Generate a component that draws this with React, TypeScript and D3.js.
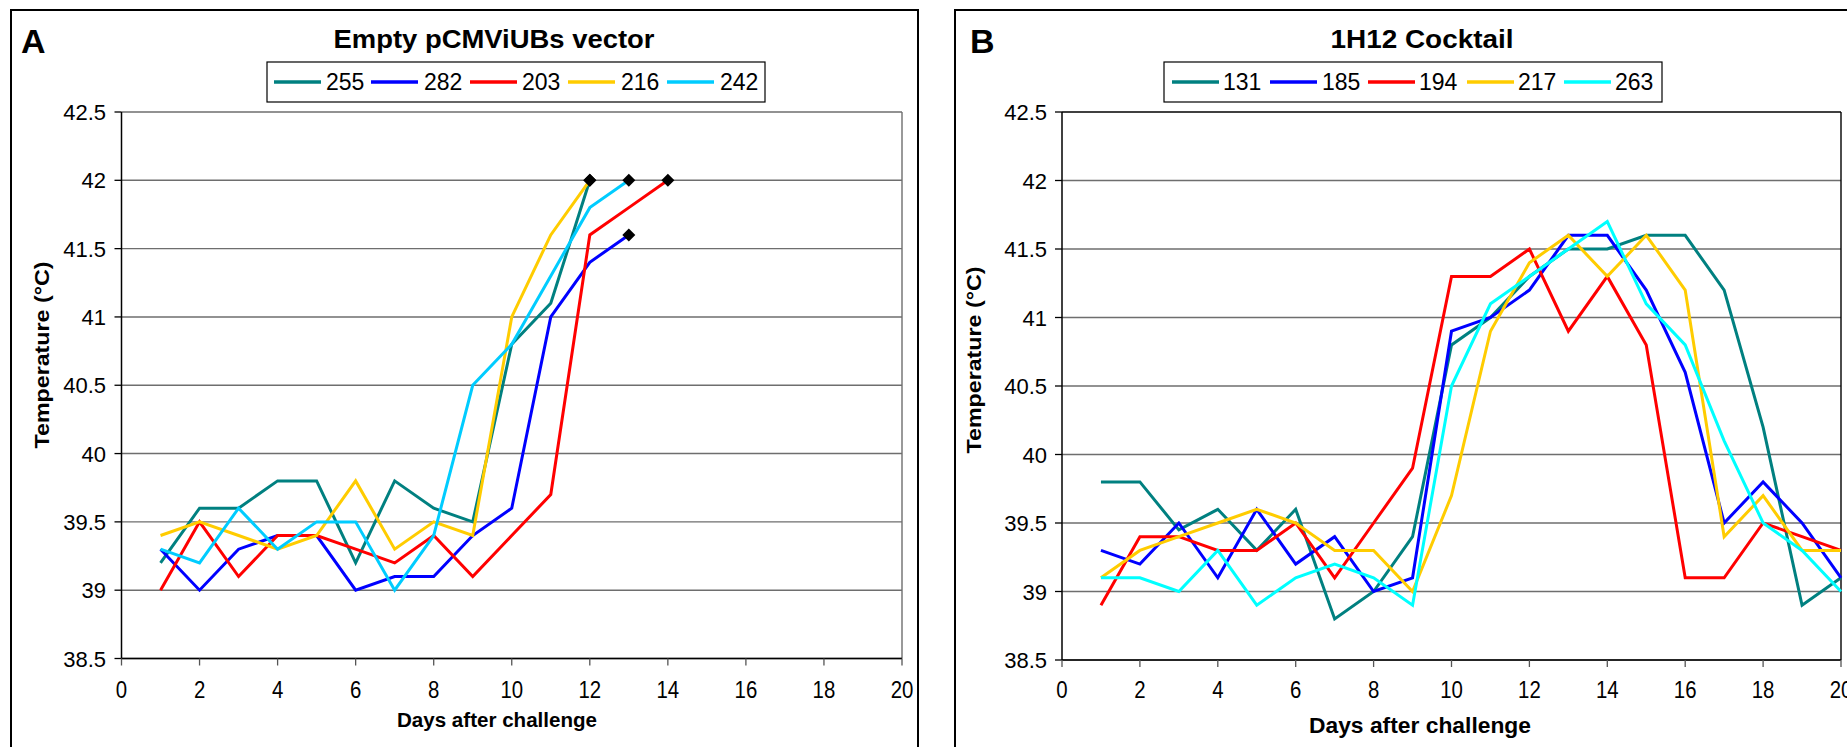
import React from "react";
import * as d3 from "d3";

// ---------- DATA ----------
const xTicks = [0, 2, 4, 6, 8, 10, 12, 14, 16, 18, 20];
const yTicks = [38.5, 39, 39.5, 40, 40.5, 41, 41.5, 42, 42.5];

// Panel A: Empty pCMViUBs vector (day 1 onwards)
const aNames = ["255", "282", "203", "216", "242"];
const a255 = [39.2, 39.6, 39.6, 39.8, 39.8, 39.2, 39.8, 39.6, 39.5, 40.8, 41.1, 42.0];
const a282 = [39.3, 39.0, 39.3, 39.4, 39.4, 39.0, 39.1, 39.1, 39.4, 39.6, 41.0, 41.4, 41.6];
const a203 = [39.0, 39.5, 39.1, 39.4, 39.4, 39.3, 39.2, 39.4, 39.1, 39.4, 39.7, 41.6, 41.8, 42.0];
const a216 = [39.4, 39.5, 39.4, 39.3, 39.4, 39.8, 39.3, 39.5, 39.4, 41.0, 41.6, 42.0];
const a242 = [39.3, 39.2, 39.6, 39.3, 39.5, 39.5, 39.0, 39.4, 40.5, 40.8, 41.3, 41.8, 42.0];

// Panel B: 1H12 Cocktail
const bNames = ["131", "185", "194", "217", "263"];
const b131 = [39.8, 39.8, 39.45, 39.6, 39.3, 39.6, 38.8, 39.0, 39.4, 40.8, 41.0, 41.3, 41.5, 41.5, 41.6, 41.6, 41.2, 40.2, 38.9, 39.1];
const b185 = [39.3, 39.2, 39.5, 39.1, 39.6, 39.2, 39.4, 39.0, 39.1, 40.9, 41.0, 41.2, 41.6, 41.6, 41.2, 40.6, 39.5, 39.8, 39.5, 39.1];
const b194 = [38.9, 39.4, 39.4, 39.3, 39.3, 39.5, 39.1, 39.5, 39.9, 41.3, 41.3, 41.5, 40.9, 41.3, 40.8, 39.1, 39.1, 39.5, 39.4, 39.3];
const b217 = [39.1, 39.3, 39.4, 39.5, 39.6, 39.5, 39.3, 39.3, 39.0, 39.7, 40.9, 41.4, 41.6, 41.3, 41.6, 41.2, 39.4, 39.7, 39.3, 39.3];
const b263 = [39.1, 39.1, 39.0, 39.3, 38.9, 39.1, 39.2, 39.1, 38.9, 40.5, 41.1, 41.3, 41.5, 41.7, 41.1, 40.8, 40.1, 39.5, 39.3, 39.0];

const aColors = ["#008080", "#0000FF", "#FF0000", "#FFCC00", "#00CCFF"];
const bColors = ["#008080", "#0000FF", "#FF0000", "#FFCC00", "#00FFFF"];

const FONT = "'Liberation Sans', Arial, sans-serif";

type PanelProps = {
  letter: string;
  title: string;
  names: string[];
  series: number[][];
  colors: string[];
  markers: boolean;
  frame: { x: number; y: number; w: number; h: number };
  plot: { x0: number; x1: number; y0: number; y1: number };
  letterX: number;
  titleX: number;
  titleLen: number;
  legend: { x: number; w: number; items: number[]; labels: number[] };
  yLabelRight: number;
  yTitleX: number;
  yTitleY: number;
  xTitleX: number;
  xTitleY: number;
  xTitleSize: number;
  xTitleLen: number;
  frameStroke: string;
};

function Panel(p: PanelProps) {
  const x = d3.scaleLinear().domain([0, 20]).range([p.plot.x0, p.plot.x1]);
  const y = d3.scaleLinear().domain([38.5, 42.5]).range([p.plot.y1, p.plot.y0]);
  const line = d3
    .line<[number, number]>()
    .x((d) => x(d[0]))
    .y((d) => y(d[1]));
  return (
    <g>
      <rect x={p.frame.x} y={p.frame.y} width={p.frame.w} height={p.frame.h} fill="white" stroke="#000" strokeWidth={2} />
      <text x={p.letterX} y={53} fontFamily={FONT} fontWeight="bold" fontSize={34}>{p.letter}</text>
      <text x={p.titleX} y={48} fontFamily={FONT} fontWeight="bold" fontSize={26} textAnchor="middle" textLength={p.titleLen} lengthAdjust="spacingAndGlyphs">{p.title}</text>
      {/* legend */}
      <rect x={p.legend.x} y={62} width={p.legend.w} height={40} fill="white" stroke="#000" strokeWidth={1.2} />
      {p.names.map((n, i) => (
        <g key={n}>
          <line x1={p.legend.items[i]} x2={p.legend.items[i] + 47} y1={82} y2={82} stroke={p.colors[i]} strokeWidth={3.5} />
          <text x={p.legend.labels[i]} y={89.5} fontFamily={FONT} fontSize={23}>{n}</text>
        </g>
      ))}
      {/* gridlines */}
      {yTicks.map((t) => (
        <line key={"g" + t} x1={p.plot.x0} x2={p.plot.x1} y1={y(t)} y2={y(t)} stroke={t === 42.5 ? p.frameStroke : "#6e6e6e"} strokeWidth={1.4} />
      ))}
      <line x1={p.plot.x1} x2={p.plot.x1} y1={p.plot.y0} y2={p.plot.y1} stroke={p.frameStroke} strokeWidth={1.4} />
      {/* axes */}
      <line x1={p.plot.x0} x2={p.plot.x0} y1={p.plot.y0} y2={p.plot.y1} stroke="#000" strokeWidth={1.5} />
      <line x1={p.plot.x0} x2={p.plot.x1} y1={p.plot.y1} y2={p.plot.y1} stroke="#000" strokeWidth={1.5} />
      {yTicks.map((t) => (
        <g key={"y" + t}>
          <line x1={p.plot.x0 - 7} x2={p.plot.x0} y1={y(t)} y2={y(t)} stroke="#000" strokeWidth={1.3} />
          <text x={p.yLabelRight} y={y(t) + 8} fontFamily={FONT} fontSize={22} textAnchor="end">{t}</text>
        </g>
      ))}
      {xTicks.map((t) => (
        <g key={"x" + t}>
          <line x1={x(t)} x2={x(t)} y1={p.plot.y1} y2={p.plot.y1 + 7} stroke="#555" strokeWidth={1.3} />
          <text transform={`translate(${x(t)},698) scale(0.85,1)`} fontFamily={FONT} fontSize={24} textAnchor="middle">{t}</text>
        </g>
      ))}
      <text transform={`translate(${p.yTitleX},${p.yTitleY}) rotate(-90)`} fontFamily={FONT} fontWeight="bold" fontSize={20} textAnchor="middle" textLength={187} lengthAdjust="spacingAndGlyphs">Temperature (°C)</text>
      <text x={p.xTitleX} y={p.xTitleY} fontFamily={FONT} fontWeight="bold" fontSize={p.xTitleSize} textAnchor="middle" textLength={p.xTitleLen} lengthAdjust="spacingAndGlyphs">Days after challenge</text>
      {/* series */}
      {p.series.map((s, i) => {
        const pts = s.map((v, j) => [j + 1, v] as [number, number]);
        return <path key={"s" + i} d={line(pts) || ""} fill="none" stroke={p.colors[i]} strokeWidth={3} strokeLinejoin="miter" />;
      })}
      {p.markers &&
        p.series.map((s, i) => {
          const cx = x(s.length);
          const cy = y(s[s.length - 1]);
          const r = 6.5;
          return <path key={"m" + i} d={`M${cx},${cy - r}L${cx + r},${cy}L${cx},${cy + r}L${cx - r},${cy}Z`} fill="#000" />;
        })}
    </g>
  );
}

export default function App() {
  return (
    <svg width={1847} height={747} style={{ position: "absolute", left: 0, top: 0, background: "white" }}>
      <rect x={0} y={0} width={1847} height={747} fill="white" />
      <Panel
        letter="A"
        title="Empty pCMViUBs vector"
        names={aNames}
        series={[a255, a282, a203, a216, a242]}
        colors={aColors}
        markers={true}
        frame={{ x: 11, y: 10, w: 907, h: 800 }}
        plot={{ x0: 121.5, x1: 902, y0: 112, y1: 658.5 }}
        letterX={21}
        titleX={494}
        titleLen={321}
        legend={{ x: 267, w: 498, items: [274, 371, 470, 568, 667], labels: [326, 424, 522, 621, 720] }}
        yLabelRight={106}
        yTitleX={49}
        yTitleY={355}
        xTitleX={497}
        xTitleY={727}
        xTitleSize={20}
        xTitleLen={200}
        frameStroke="#6e6e6e"
      />
      <Panel
        letter="B"
        title="1H12 Cocktail"
        names={bNames}
        series={[b131, b185, b194, b217, b263]}
        colors={bColors}
        markers={false}
        frame={{ x: 955, y: 10, w: 1000, h: 800 }}
        plot={{ x0: 1062, x1: 1841, y0: 112, y1: 660 }}
        letterX={970}
        titleX={1422}
        titleLen={183}
        legend={{ x: 1164, w: 498, items: [1172, 1270, 1368, 1467, 1564], labels: [1223, 1322, 1419, 1518, 1615] }}
        yLabelRight={1047}
        yTitleX={981}
        yTitleY={360}
        xTitleX={1420}
        xTitleY={733}
        xTitleSize={22}
        xTitleLen={222}
        frameStroke="#000"
      />
    </svg>
  );
}
